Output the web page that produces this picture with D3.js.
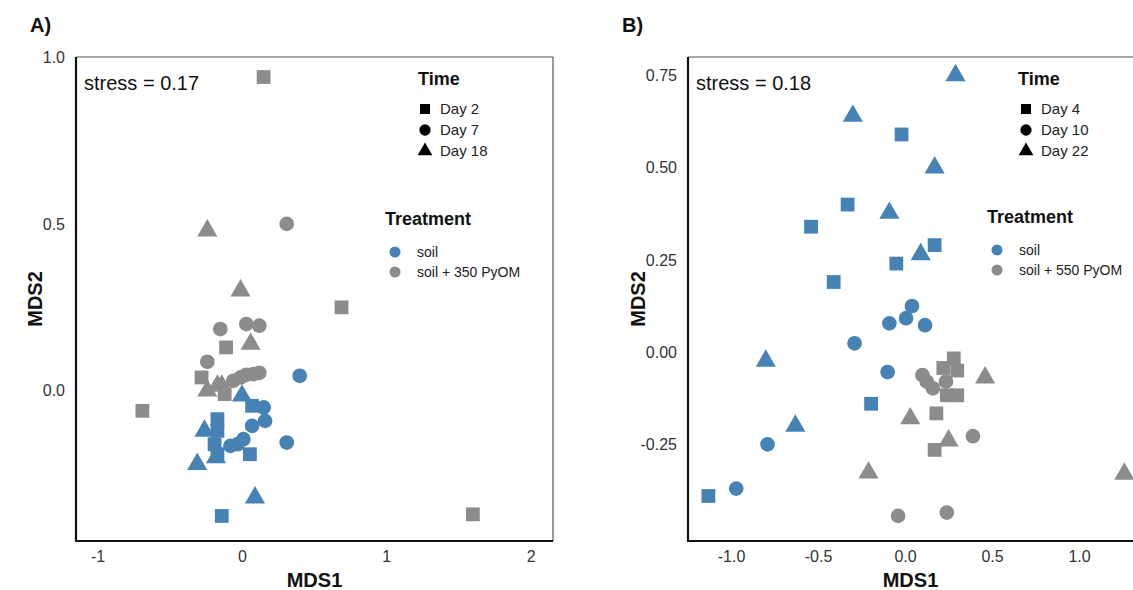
<!DOCTYPE html>
<html><head><meta charset="utf-8">
<script src="https://cdn.jsdelivr.net/npm/d3@7"></script>
<style>body{margin:0;background:#fff;}svg{display:block;font-family:"Liberation Sans",Arial,sans-serif;}</style>
</head><body>
<svg id="c" width="1133" height="590"></svg>
<script>
// Panel A data: [MDS1, MDS2, day, treatment]
const daysA = ["Day 2","Day 7","Day 18"];
const daysB = ["Day 4","Day 10","Day 22"];
const treatA = ["soil","soil + 350 PyOM"];
const treatB = ["soil","soil + 550 PyOM"];
const ticksAx = [-1,0,1,2];
const ticksAy = [0.0,0.5,1.0];
const ticksBx = [-1.0,-0.5,0.0,0.5,1.0];
const ticksBy = [-0.25,0.00,0.25,0.50,0.75];
const stressA = "stress = 0.17";
const stressB = "stress = 0.18";

const pyomA = [
 [0.15,0.94,"Day 2"],[0.31,0.50,"Day 7"],[-0.24,0.48,"Day 18"],[-0.01,0.30,"Day 18"],
 [0.69,0.25,"Day 2"],[-0.15,0.185,"Day 7"],[0.03,0.20,"Day 7"],[0.12,0.195,"Day 7"],
 [-0.11,0.13,"Day 2"],[0.06,0.14,"Day 18"],[-0.24,0.087,"Day 7"],[-0.28,0.04,"Day 2"],
 [-0.24,0.0,"Day 18"],[-0.17,0.015,"Day 18"],[-0.14,0.015,"Day 18"],[-0.12,-0.01,"Day 2"],
 [-0.06,0.03,"Day 7"],[-0.01,0.04,"Day 7"],[0.03,0.048,"Day 7"],[0.08,0.05,"Day 7"],[0.12,0.054,"Day 7"],
 [-0.69,-0.06,"Day 2"],[1.60,-0.37,"Day 2"]
];
const soilA = [
 [0.40,0.045,"Day 7"],[0.0,-0.015,"Day 18"],[0.07,-0.045,"Day 2"],[0.15,-0.05,"Day 7"],
 [0.16,-0.09,"Day 7"],[0.07,-0.105,"Day 7"],[-0.17,-0.085,"Day 2"],[-0.26,-0.12,"Day 18"],
 [-0.17,-0.12,"Day 2"],[-0.19,-0.16,"Day 2"],[-0.17,-0.19,"Day 2"],[0.01,-0.145,"Day 7"],
 [-0.03,-0.16,"Day 7"],[-0.08,-0.165,"Day 7"],[0.055,-0.19,"Day 2"],[0.31,-0.155,"Day 7"],
 [-0.31,-0.22,"Day 18"],[-0.18,-0.20,"Day 18"],[0.09,-0.32,"Day 18"],[-0.14,-0.375,"Day 2"]
];
const soilB = [
 [0.29,0.75,"Day 22"],[-0.30,0.64,"Day 22"],[-0.02,0.59,"Day 4"],[0.17,0.50,"Day 22"],
 [-0.33,0.40,"Day 4"],[-0.09,0.377,"Day 22"],[-0.54,0.34,"Day 4"],[0.17,0.29,"Day 4"],
 [0.09,0.265,"Day 22"],[-0.05,0.24,"Day 4"],[-0.41,0.19,"Day 4"],[0.04,0.125,"Day 10"],
 [0.006,0.092,"Day 10"],[-0.09,0.078,"Day 10"],[0.115,0.073,"Day 10"],[-0.29,0.024,"Day 10"],
 [-0.80,-0.024,"Day 22"],[-0.10,-0.054,"Day 10"],[-0.195,-0.14,"Day 4"],[-0.63,-0.20,"Day 22"],
 [-0.79,-0.25,"Day 10"],[-0.97,-0.37,"Day 10"],[-1.13,-0.39,"Day 4"]
];
const pyomB = [
 [0.28,-0.017,"Day 4"],[0.22,-0.043,"Day 4"],[0.30,-0.05,"Day 4"],[0.24,-0.117,"Day 4"],
 [0.30,-0.117,"Day 4"],[0.235,-0.08,"Day 10"],[0.10,-0.062,"Day 10"],[0.125,-0.08,"Day 10"],
 [0.16,-0.098,"Day 10"],[0.46,-0.069,"Day 22"],[0.18,-0.166,"Day 4"],[0.03,-0.18,"Day 22"],
 [0.25,-0.24,"Day 22"],[0.39,-0.228,"Day 10"],[0.17,-0.265,"Day 4"],[-0.21,-0.327,"Day 22"],
 [-0.04,-0.444,"Day 10"],[0.24,-0.435,"Day 10"],[1.26,-0.33,"Day 22"]
];

const BLUE = "#4682b4", GREY = "#8c8c8c";
const svg = d3.select("#c");
const symTypes = [d3.symbolSquare, d3.symbolCircle, d3.symbolTriangle];
const symSizes = [190, 170, 175];
const hy = f => v => f(v).replace("\u2212","-");

function panel(opt){
  const {x0,x1,y0,y1,xd,yd,xt,yt,fmt,days,treat,series,label,lx,stress,leg,showRight} = opt;
  const x = d3.scaleLinear().domain(xd).range([x0,x1]);
  const y = d3.scaleLinear().domain(yd).range([y1,y0]);
  const g = svg.append("g");
  // frame
  g.append("line").attr("x1",x0).attr("x2",x1).attr("y1",y0).attr("y2",y0).attr("stroke","#555").attr("stroke-width",1.2);
  if(showRight) g.append("line").attr("x1",x1).attr("x2",x1).attr("y1",y0).attr("y2",y1).attr("stroke","#555").attr("stroke-width",1.2);
  // axes
  const ax = g.append("g").attr("transform",`translate(0,${y1})`).call(d3.axisBottom(x).tickValues(xt).tickFormat(hy(fmt.x)).tickSize(0).tickPadding(10));
  const ay = g.append("g").attr("transform",`translate(${x0},0)`).call(d3.axisLeft(y).tickValues(yt).tickFormat(hy(fmt.y)).tickSize(0).tickPadding(11));
  [ax,ay].forEach(a=>{a.select(".domain").attr("stroke","#111").attr("stroke-width",2.2);
    a.selectAll("text").attr("font-size",16).attr("fill","#333").attr("font-family","Liberation Sans, Arial, sans-serif");});
  ax.select(".domain").attr("d",`M${x0-1},0H${x1}`);
  ay.select(".domain").attr("d",`M0,${y0}V${y1+1}`);
  // titles
  g.append("text").attr("x",(x0+Math.min(x1,1133))/2 + opt.xtOff).attr("y",587).attr("text-anchor","middle").attr("font-weight","bold").attr("font-size",20).attr("fill","#111").text("MDS1");
  g.append("text").attr("transform",`translate(${opt.ytx},${(y0+y1)/2}) rotate(-90)`).attr("text-anchor","middle").attr("font-weight","bold").attr("font-size",20).attr("fill","#111").text("MDS2");
  g.append("text").attr("x",lx).attr("y",32).attr("font-weight","bold").attr("font-size",20).attr("fill","#111").text(label);
  g.append("text").attr("x",x0+8).attr("y",90).attr("font-size",20).attr("fill","#111").text(stress);
  // points
  const clip = "clip"+label.replace(/\W/g,"");
  svg.append("clipPath").attr("id",clip).append("rect").attr("x",x0).attr("y",y0).attr("width",x1-x0).attr("height",y1-y0);
  const pg = g.append("g").attr("clip-path",`url(#${clip})`);
  series.forEach(s=>{
    pg.selectAll(null).data(s.data).join("path")
      .attr("transform",d=>`translate(${x(d[0])},${y(d[1])})`)
      .attr("d",d=>{const i=days.indexOf(d[2]);return d3.symbol(symTypes[i],symSizes[i])();})
      .attr("fill",s.color);
  });
  // legend
  const L = g.append("g");
  L.append("text").attr("x",leg.tx).attr("y",leg.ty).attr("font-weight","bold").attr("font-size",18).attr("fill","#111").text("Time");
  days.forEach((d,i)=>{
    const yy = leg.ty+24+i*21;
    L.append("path").attr("transform",`translate(${leg.sx},${yy})`).attr("d",d3.symbol(symTypes[i],[100,100,95][i])()).attr("fill","#000");
    L.append("text").attr("x",leg.sx+15).attr("y",yy+5).attr("font-size",15).attr("fill","#222").text(d);
  });
  L.append("text").attr("x",leg.rx).attr("y",leg.ry).attr("font-weight","bold").attr("font-size",18).attr("fill","#111").text("Treatment");
  treat.forEach((t,i)=>{
    const yy = leg.ry+27+i*20;
    L.append("circle").attr("cx",leg.rx+10).attr("cy",yy).attr("r",5.5).attr("fill",[BLUE,GREY][i]);
    L.append("text").attr("x",leg.rx+32).attr("y",yy+5).attr("font-size",14).attr("fill","#222").text(t);
  });
}

panel({x0:76,x1:553,y0:57,y1:541,xd:[-1.15,2.155],yd:[-0.45,1.0],xt:ticksAx,yt:ticksAy,
  fmt:{x:d3.format("d"),y:d3.format(".1f")},days:daysA,treat:treatA,label:"A)",lx:30,stress:stressA,
  series:[{data:pyomA,color:GREY},{data:soilA,color:BLUE}],xtOff:0,ytx:42,showRight:true,
  leg:{tx:418,ty:85,sx:425,rx:385,ry:225}});
panel({x0:688,x1:1140,y0:57,y1:541,xd:[-1.247,1.35],yd:[-0.512,0.80],xt:ticksBx,yt:ticksBy,
  fmt:{x:d3.format(".1f"),y:d3.format(".2f")},days:daysB,treat:treatB,label:"B)",lx:622,stress:stressB,
  series:[{data:pyomB,color:GREY},{data:soilB,color:BLUE}],xtOff:0,ytx:645,showRight:false,
  leg:{tx:1018,ty:85,sx:1026,rx:987,ry:223}});
</script>
</body></html>
